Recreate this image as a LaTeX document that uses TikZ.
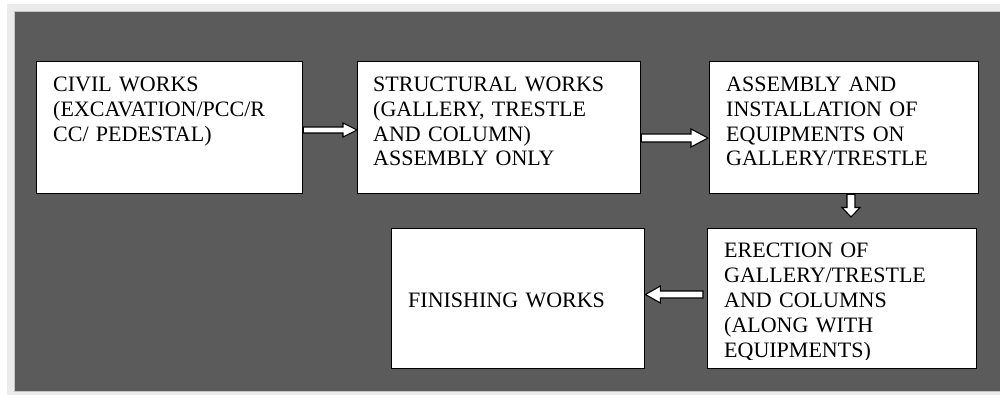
\documentclass[tikz,border=0pt]{standalone}
\usepackage{fontspec}
\setmainfont{Liberation Serif}
\usetikzlibrary{calc}
\definecolor{panel}{HTML}{5B5B5B}
\definecolor{frame}{HTML}{EBEBEB}
\definecolor{rim}{HTML}{C4C4C4}
\tikzset{
  stage/.style={rectangle, draw=black, line width=1.4pt, fill=white,
    inner sep=0pt, anchor=north west},
  txt/.style={anchor=base west, inner sep=0pt, text width=280pt, align=left,
    font=\fontsize{22}{24.8}\selectfont},
  blk/.style={draw=black, fill=white, line width=1.1pt, line join=miter},
}
% block arrow from #1 to #2: shaft half-width #3, head half-width #4, head length #5
\newcommand\blockarrow[5]{%
  \coordinate (hb) at ($(#2)!#5!(#1)$);
  \draw[blk] ($(#1)!#3!90:(#2)$) -- ($(hb)!#3!90:(#2)$) -- ($(hb)!#4!90:(#2)$)
    -- (#2) -- ($(hb)!#4!-90:(#2)$) -- ($(hb)!#3!-90:(#2)$)
    -- ($(#1)!#3!-90:(#2)$) -- cycle;}
\begin{document}
\begin{tikzpicture}[x=1pt, y=-1pt]
  \useasboundingbox (0,0) rectangle (1000,395);
  % backdrop
  \fill[white] (0,0) rectangle (1000,395);
  \fill[frame] (7,4) rectangle (1000,395);
  \filldraw[fill=panel, draw=rim, line width=0.8pt] (14.4,11.6) rectangle (1001,391.8);

  % process stages
  \node[stage, minimum width=266pt, minimum height=132pt] (b1) at (36,61) {};
  \node[stage, minimum width=283pt, minimum height=132pt] (b2) at (357,61) {};
  \node[stage, minimum width=269pt, minimum height=132pt] (b3) at (709,61) {};
  \node[stage, minimum width=269pt, minimum height=140pt] (b4) at (707,228) {};
  \node[stage, minimum width=253pt, minimum height=140pt] (b5) at (391,228) {};

  \node[txt] (t1) at ($(b1.north west)+(17,30.5)$)
    {CIVIL WORKS\\(EXCAVATION/PCC/R\\CC/ PEDESTAL)};
  \node[txt] (t2) at ($(b2.north west)+(16,30.5)$)
    {STRUCTURAL WORKS\\(GALLERY, TRESTLE\\AND COLUMN)\\ASSEMBLY ONLY};
  \node[txt] (t3) at ($(b3.north west)+(17,30.5)$)
    {ASSEMBLY AND\\INSTALLATION OF\\EQUIPMENTS ON\\GALLERY/TRESTLE};
  \begin{scope}
    \clip (b4.north west) rectangle (b4.east |- 0,359.5);
    \node[txt] (t4) at ($(b4.north west)+(17,30)$)
      {ERECTION OF\\GALLERY/TRESTLE\\AND COLUMNS\\(ALONG WITH\\EQUIPMENTS)};
  \end{scope}
  \node[txt] (t5) at ($(b5.north west)+(17,79.7)$) {FINISHING WORKS};

  % flow arrows
  \coordinate (a1s) at (b1.east |- 0,130);
  \coordinate (a1e) at (b2.west |- 0,130);
  \blockarrow{a1s}{a1e}{3pt}{7pt}{14pt}

  \coordinate (a2s) at (b2.east |- 0,138);
  \coordinate (a2e) at ($(b3.west |- 0,138)+(-1,0)$);
  \blockarrow{a2s}{a2e}{4pt}{9pt}{17pt}

  \coordinate (a3s) at (b3.south -| 851,0);
  \coordinate (a3e) at ($(b4.north -| 851,0)+(0,-11)$);
  \blockarrow{a3s}{a3e}{4pt}{9pt}{9.5pt}

  \coordinate (a4s) at ($(b4.west |- 0,294.5)+(-4,0)$);
  \coordinate (a4e) at (b5.east |- 0,294.5);
  \blockarrow{a4s}{a4e}{3.5pt}{8.5pt}{15pt}
\end{tikzpicture}
\end{document}
